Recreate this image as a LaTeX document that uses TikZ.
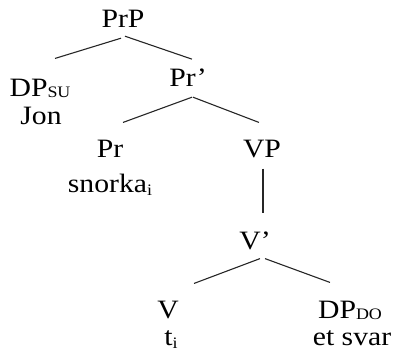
\documentclass[tikz,border=0pt]{standalone}
\usepackage{fontspec}
\setmainfont{Liberation Serif}[FakeStretch=1.12]
\usepackage{tikz}

% small lowered index, as in DP_SU
\newcommand{\idx}[2][1pt]{\raisebox{-#1}{\fontsize{16}{16}\selectfont #2}}

\tikzset{
  lbl/.style={anchor=base, inner sep=0pt, font=\fontsize{26.5}{30}\selectfont},
  branch/.style={line width=1.1pt, black!85}
}

\begin{document}
\begin{tikzpicture}[x=1pt, y=-1pt]
                \useasboundingbox (0,0) rectangle (394,358);

                % labels, placed on their baselines
                \node[lbl] (PrP) at (123,28) {PrP};
                \node[lbl] (DPsu) at (40,97) {DP\idx{SU}};
                \node[lbl] (Jon) at (41,125) {Jon};
                \node[lbl] (Prbar) at (188,87) {Pr’};
                \node[lbl] (Pr) at (110,158) {Pr};
                \node[lbl] (snorka) at (110,193) {snorka\idx[3pt]{i}};
                \node[lbl] (VP) at (262,158) {VP};
                \node[lbl] (Vbar) at (255,250) {V’};
                \node[lbl] (V) at (168,319) {V};
                \node[lbl] (ti) at (171,345) {t\idx[3pt]{i}};
                \node[lbl] (DPdo) at (350,319) {DP\idx{DO}};
                \node[lbl] (svar) at (352,345) {et svar};

                % branches
                \draw[branch] ([xshift=-2pt,yshift=-10pt]PrP.south) -- ([xshift=15pt,yshift=21pt]DPsu.north);
                \draw[branch] ([xshift=2pt,yshift=-8pt]PrP.south) -- ([xshift=4pt,yshift=10pt]Prbar.north);
                \draw[branch] ([xshift=4pt,yshift=-10pt]Prbar.south) -- ([xshift=13pt,yshift=18pt]Pr.north);
                \draw[branch] ([xshift=5pt,yshift=-10pt]Prbar.south) -- ([xshift=-3pt,yshift=18pt]VP.north);
                \draw[branch] ([xshift=1pt,yshift=-10pt]VP.south) -- ([xshift=8pt,yshift=19pt]Vbar.north);
                \draw[branch] ([xshift=5pt,yshift=-8pt]Vbar.south) -- ([xshift=26pt,yshift=18pt]V.north);
                \draw[branch] ([xshift=10pt,yshift=-8pt]Vbar.south) -- ([xshift=-20pt,yshift=19pt]DPdo.north);
\end{tikzpicture}
\end{document}
